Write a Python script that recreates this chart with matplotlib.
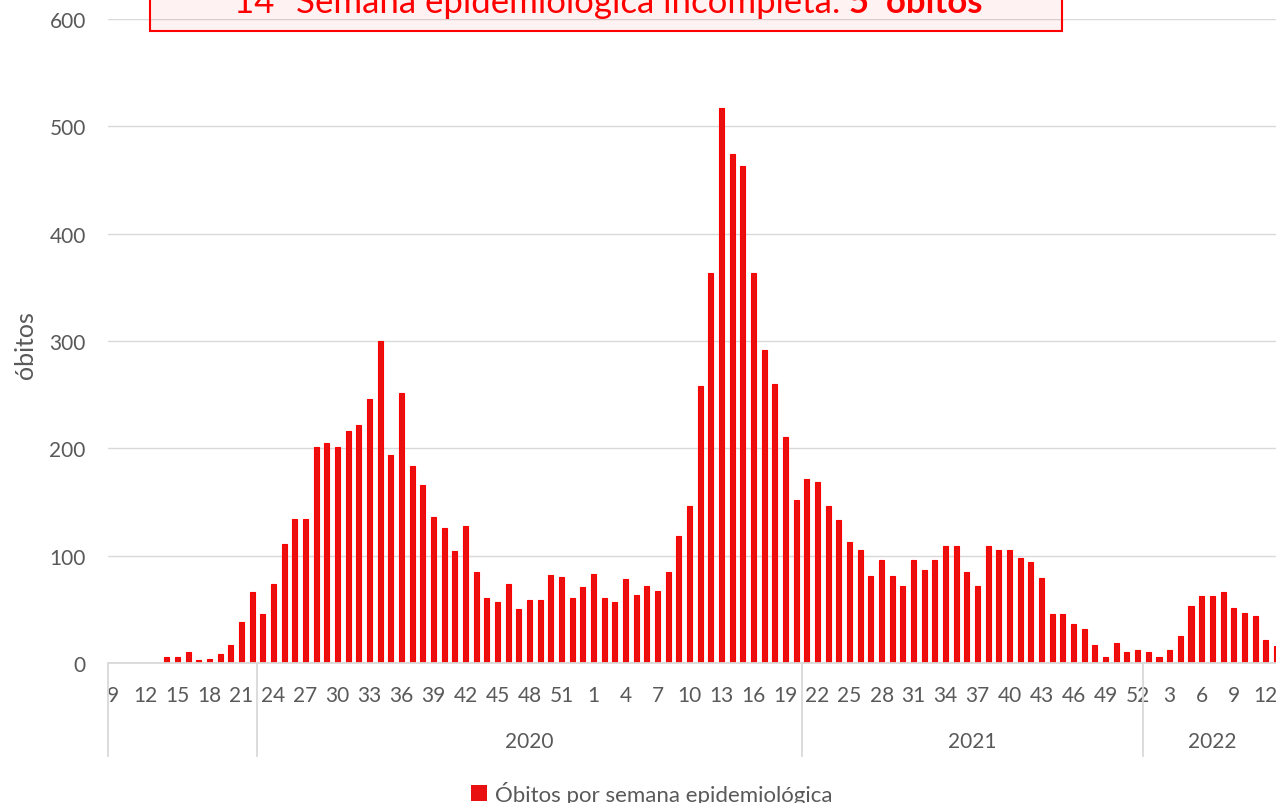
import matplotlib
matplotlib.use("Agg")
import matplotlib.pyplot as plt
import matplotlib.transforms as mtransforms
from matplotlib.patches import Rectangle
import numpy as np

plt.rcParams['font.family'] = ['Lato', 'DejaVu Sans']

# semanas epidemiológicas e óbitos
weeks_2020 = list(range(9, 54))
deaths_2020 = [0, 0, 0, 0, 0, 6, 6, 10, 3, 4, 8, 17, 38, 66, 46, 74, 111, 134, 134,
               201, 205, 201, 216, 222, 246, 300, 194, 252, 184, 166, 136, 126, 104,
               128, 85, 61, 57, 74, 50, 59, 59, 82, 80, 61, 71]
weeks_2021 = list(range(1, 53))
deaths_2021 = [83, 61, 57, 78, 63, 72, 67, 85, 118, 146, 258, 363, 517, 474, 463,
               363, 292, 260, 211, 152, 171, 169, 146, 133, 113, 105, 81, 96, 81,
               72, 96, 87, 96, 109, 109, 85, 72, 109, 105, 105, 98, 94, 79, 46, 46,
               36, 32, 17, 6, 19, 10, 12]
weeks_2022 = list(range(1, 14))
deaths_2022 = [10, 6, 12, 25, 53, 62, 62, 66, 51, 47, 44, 21, 16]

# rótulos de ano como aparecem no gráfico (nº de categorias em cada grupo)
year_labels = ["", "2020", "2021", "2022"]
year_sizes = [14, 51, 32, 13]

weeks = weeks_2020 + weeks_2021 + weeks_2022
deaths = deaths_2020 + deaths_2021 + deaths_2022
x = np.arange(len(weeks))

W, H = 1276, 804
fig = plt.figure(figsize=(W / 100, H / 100), dpi=100)
ax = fig.add_axes([108 / W, 140 / H, 1168 / W, 644 / H])

# sem contorno nas barras de valor zero
lws = [0.8 if d > 0 else 0 for d in deaths]
ax.bar(x, deaths, width=0.47, color='#E81010', edgecolor='#FF0000', linewidth=lws,
       label='Óbitos por semana epidemiológica', zorder=3)

ax.set_xlim(-0.5, -0.5 + 1168 / 10.67)
ax.set_ylim(0, 600)
ax.set_yticks(range(0, 601, 100))
ax.grid(axis='y', color='#D9D9D9', lw=1)
ax.set_axisbelow(True)
for s in ['left', 'right', 'top']:
    ax.spines[s].set_visible(False)
ax.spines['bottom'].set_color('#D9D9D9')
ax.spines['bottom'].set_linewidth(1.3)
ax.spines['bottom'].set_zorder(4)

ax.set_xticks(x[::3])
ax.set_xticklabels([str(w) for w in weeks[::3]])
ax.tick_params(axis='both', length=0, labelsize=15, colors='#595959')
ax.tick_params(axis='y', pad=16)
ax.tick_params(axis='x', pad=16)

ax.set_ylabel('óbitos', fontsize=18, color='#595959')
ax.yaxis.set_label_coords((37 - 108) / 1168, (664 - 345) / 644)

# separadores e rótulos dos anos
trans = mtransforms.blended_transform_factory(ax.transData, ax.transAxes)
start = -0.5
for lab, n in zip(year_labels, year_sizes):
    ax.plot([start, start], [0, -93 / 644], transform=trans, color='#D9D9D9',
            lw=1.3, clip_on=False)
    ax.text(start + n / 2, -78 / 644, lab, transform=trans, ha='center', va='center',
            fontsize=15, color='#595959')
    start += n

fig.legend(loc='center', bbox_to_anchor=(652 / W, 1 - 794 / H), frameon=False,
           fontsize=16, labelcolor='#595959', handlelength=0.7, handleheight=0.7,
           handletextpad=0.4)

# caixa de aviso no topo
box = Rectangle((150 / W, 1 - 32 / H), (1062 - 150) / W, 0.1, transform=fig.transFigure,
                facecolor=(1, 0, 0, 0.05), edgecolor='#FF0000', lw=1.5)
fig.add_artist(box)

r = fig.canvas.get_renderer()
ty = 1 - 13 / H
t1 = fig.text(0, ty, '14ª Semana epidemiológica incompleta: ', fontsize=25,
              color='#FF0000', va='baseline', ha='left')
t2 = fig.text(0, ty, '5  óbitos', fontsize=25, fontweight='bold',
              color='#FF0000', va='baseline', ha='left')
w1 = t1.get_window_extent(r).width
w2 = t2.get_window_extent(r).width
x0 = 608 - (w1 + w2) / 2
t1.set_x(x0 / W)
t2.set_x((x0 + w1) / W)

fig.savefig('out.png', dpi=100)
